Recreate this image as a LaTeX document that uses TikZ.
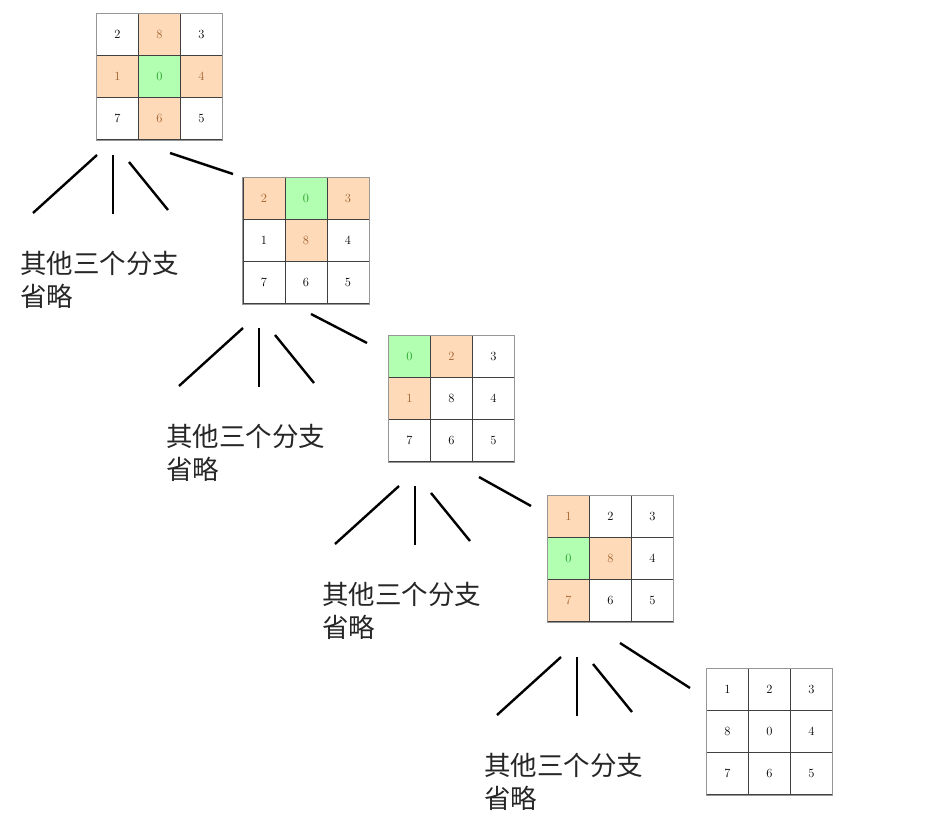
\documentclass[tikz,border=0pt]{standalone}
\usepackage{fontspec}
\newfontfamily\cjk{Noto Sans CJK SC}
\usetikzlibrary{matrix,positioning}
\definecolor{MoveFill}{RGB}{255,218,185}
\definecolor{MoveText}{RGB}{160,98,45}
\definecolor{BlankFill}{RGB}{178,255,178}
\definecolor{BlankText}{RGB}{40,160,40}
\definecolor{FrameGray}{RGB}{150,150,150}

\tikzset{
  board/.style={matrix of nodes, column sep=-0.6pt, row sep=-0.6pt,
    nodes={draw=black!75, line width=0.6pt, minimum size=42pt, inner sep=0pt,
           font=\fontsize{12.5}{14}\selectfont}},
  mv/.style={fill=MoveFill, text=MoveText},
  blank/.style={fill=BlankFill, text=BlankText},
  branch/.style={line width=2.4pt, black},
  note/.style={font=\cjk\fontsize{26.5}{33}\selectfont, align=left, anchor=west,
    inner sep=0pt, text=black!85}
}

\begin{document}
\begin{tikzpicture}[x=1pt, y=-1pt]
  \useasboundingbox (0,0) rectangle (925,829);

  % boards
  \matrix[board] (b1) at (159.5,76.5) {
    2 & |[mv]| 8 & 3 \\
    |[mv]| 1 & |[blank]| 0 & |[mv]| 4 \\
    7 & |[mv]| 6 & 5 \\
  };
  \matrix[board] (b2) at (306,240.5) {
    |[mv]| 2 & |[blank]| 0 & |[mv]| 3 \\
    1 & |[mv]| 8 & 4 \\
    7 & 6 & 5 \\
  };
  \matrix[board] (b3) at (451.5,398.5) {
    |[blank]| 0 & |[mv]| 2 & 3 \\
    |[mv]| 1 & 8 & 4 \\
    7 & 6 & 5 \\
  };
  \matrix[board] (b4) at (610.5,558.5) {
    |[mv]| 1 & 2 & 3 \\
    |[blank]| 0 & |[mv]| 8 & 4 \\
    |[mv]| 7 & 6 & 5 \\
  };
  \matrix[board] (b5) at (769.5,731.5) {
    1 & 2 & 3 \\
    8 & 0 & 4 \\
    7 & 6 & 5 \\
  };
  \foreach \b in {b1,b2,b3,b4,b5}
    \draw[FrameGray, line width=0.8pt] (\b-1-1.north west) rectangle (\b-3-3.south east);

  % pruned branches
  \foreach \f/\x/\y in {f1/97/155, f2/243/328, f3/399/486, f4/561/657} {
    \coordinate (\f) at (\x,\y);
    \draw[branch] (\f) -- ++(-64,58);
    \draw[branch] ([shift={(16,0)}]\f) -- ++(0,59);
    \draw[branch] ([shift={(32,7)}]\f) -- ++(39,48);
    \node[note] (n\f) at ([shift={(-77,125)}]\f) {其他三个分支\\省略};
  }

  % links to the next board
  \coordinate (d1s) at (170,153);  \coordinate (d1e) at (233,174);
  \coordinate (d2s) at (311,314);  \coordinate (d2e) at (367,343);
  \coordinate (d3s) at (479,477);  \coordinate (d3e) at (531,506);
  \coordinate (d4s) at (620,643);  \coordinate (d4e) at (690,688);
  \draw[branch] (d1s) -- (d1e);
  \draw[branch] (d2s) -- (d2e);
  \draw[branch] (d3s) -- (d3e);
  \draw[branch] (d4s) -- (d4e);
\end{tikzpicture}
\end{document}
